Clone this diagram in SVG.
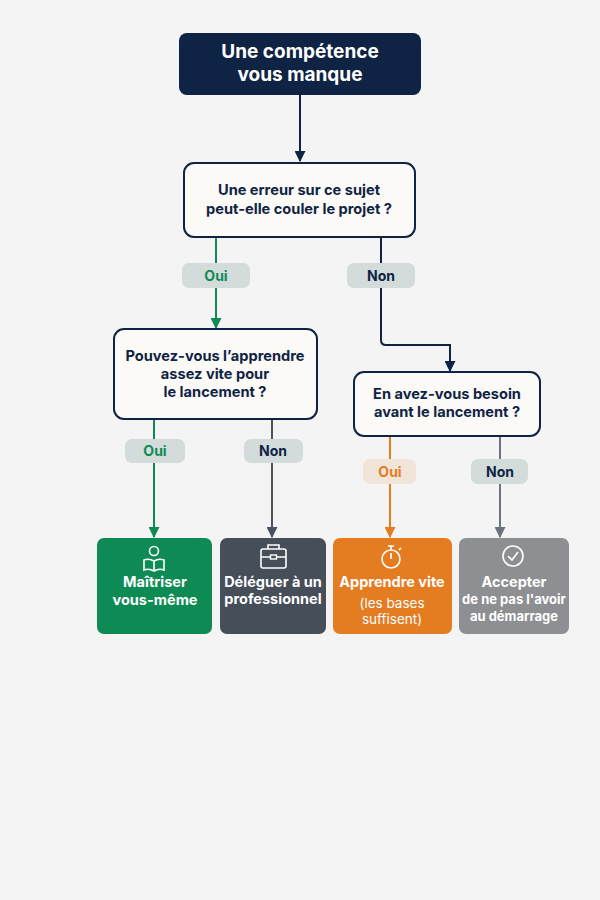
<svg xmlns="http://www.w3.org/2000/svg" width="600" height="900" viewBox="0 0 600 900">
<style>
text{font-family:Inter,"Liberation Sans",sans-serif;font-weight:700;text-anchor:middle}
.q{fill:#fbfaf6;stroke:#0f2344;stroke-width:2}
.qt{font-size:14.6px;fill:#0f2344}
.pill{fill:#d3dcda}
.pt{font-size:14px}
.rt{font-size:14.5px;fill:#fff}
.rn{font-size:13.5px;fill:#fff;font-weight:400}
.ic{fill:none;stroke:#fff;stroke-width:1.6}
</style>
<defs>
<marker id="ag" viewBox="0 0 10 10" refX="9" refY="5" markerWidth="11" markerHeight="11" orient="auto" markerUnits="userSpaceOnUse"><path d="M0,0 L10,5 L0,10 Z" fill="#0e8a55"/></marker>
<marker id="ad" viewBox="0 0 10 10" refX="9" refY="5" markerWidth="11" markerHeight="11" orient="auto" markerUnits="userSpaceOnUse"><path d="M0,0 L10,5 L0,10 Z" fill="#0f2344"/></marker>
<marker id="as" viewBox="0 0 10 10" refX="9" refY="5" markerWidth="11" markerHeight="11" orient="auto" markerUnits="userSpaceOnUse"><path d="M0,0 L10,5 L0,10 Z" fill="#4a5260"/></marker>
<marker id="ao" viewBox="0 0 10 10" refX="9" refY="5" markerWidth="11" markerHeight="11" orient="auto" markerUnits="userSpaceOnUse"><path d="M0,0 L10,5 L0,10 Z" fill="#e47c22"/></marker>
<marker id="ay" viewBox="0 0 10 10" refX="9" refY="5" markerWidth="11" markerHeight="11" orient="auto" markerUnits="userSpaceOnUse"><path d="M0,0 L10,5 L0,10 Z" fill="#6c7380"/></marker>
</defs>
<rect width="600" height="900" fill="#f4f4f4"/>
<g id="connectors" fill="none" stroke-width="2">
<path d="M300,95 V161" stroke="#0f2344" marker-end="url(#ad)"/>
<path d="M216,237 V328" stroke="#0e8a55" marker-end="url(#ag)"/>
<path d="M381,237 V340 Q381,345 386,345 H450 V371" stroke="#0f2344" marker-end="url(#ad)"/>
<path d="M154,419 V537" stroke="#0e8a55" marker-end="url(#ag)"/>
<path d="M272,419 V537" stroke="#4a5260" marker-end="url(#as)"/>
<path d="M390,436 V537" stroke="#e47c22" marker-end="url(#ao)"/>
<path d="M500,436 V537" stroke="#6c7380" marker-end="url(#ay)"/>
<rect class="pill" x="182" y="263" width="68" height="25" rx="7" stroke="none"/>
<text class="pt" x="216" y="281" fill="#0e8a55" stroke="none">Oui</text>
<rect class="pill" x="347" y="263" width="68" height="25" rx="7" stroke="none"/>
<text class="pt" x="381" y="281" fill="#0f2344" stroke="none">Non</text>
<rect class="pill" x="125" y="439" width="60" height="24" rx="7" stroke="none"/>
<text class="pt" x="155" y="456" fill="#0e8a55" stroke="none">Oui</text>
<rect class="pill" x="244" y="439" width="59" height="24" rx="7" stroke="none"/>
<text class="pt" x="273" y="456" fill="#0f2344" stroke="none">Non</text>
<rect x="363" y="459" width="53" height="25" rx="7" fill="#f1e4d8" stroke="none"/>
<text class="pt" x="390" y="477" fill="#e47c22" stroke="none">Oui</text>
<rect class="pill" x="471" y="459" width="57" height="25" rx="7" stroke="none"/>
<text class="pt" x="500" y="477" fill="#0f2344" stroke="none">Non</text>
</g>
<g id="start">
<rect x="179" y="33" width="242" height="62" rx="8" fill="#0f2344"/>
<text x="300" y="58" font-size="19" fill="#fff">Une compétence</text>
<text x="300" y="81" font-size="19" fill="#fff">vous manque</text>
</g>
<g id="q1">
<rect class="q" x="184" y="163" width="231" height="74" rx="10"/>
<text class="qt" x="299" y="195">Une erreur sur ce sujet</text>
<text class="qt" x="299" y="214">peut-elle couler le projet ?</text>
</g>
<g id="q2">
<rect class="q" x="114" y="329" width="203" height="90" rx="10"/>
<text class="qt" x="215" y="361">Pouvez-vous l’apprendre</text>
<text class="qt" x="215" y="379">assez vite pour</text>
<text class="qt" x="215" y="397">le lancement ?</text>
</g>
<g id="q3">
<rect class="q" x="354" y="372" width="186" height="64" rx="10"/>
<text class="qt" x="447" y="399">En avez-vous besoin</text>
<text class="qt" x="447" y="417">avant le lancement ?</text>
</g>
<g id="r1">
<rect x="97" y="538" width="115" height="96" rx="7" fill="#0e8a55"/>
<circle class="ic" cx="154" cy="551" r="4.5"/>
<path class="ic" d="M144,560 Q149,558 154,561 Q159,558 164,560 V570 Q159,568 154,571 Q149,568 144,570 Z M154,561 V571"/>
<text class="rt" x="155" y="587">Maîtriser</text>
<text class="rt" x="155" y="605">vous-même</text>
</g>
<g id="r2">
<rect x="220" y="538" width="106" height="96" rx="7" fill="#464e59"/>
<rect class="ic" x="261" y="549" width="25" height="19" rx="2"/>
<path class="ic" d="M268,549 V545 H279 V549 M261,557 H286"/>
<rect x="270.5" y="555" width="6" height="4" fill="#464e59" stroke="#fff" stroke-width="1.4"/>
<text class="rt" x="273" y="587">Déléguer à un</text>
<text class="rt" x="273" y="604">professionnel</text>
</g>
<g id="r3">
<rect x="333" y="538" width="119" height="96" rx="7" fill="#e47c22"/>
<circle class="ic" cx="391" cy="559" r="9"/>
<path class="ic" d="M388,546 H394 M391,546 V550 M391,553 V559 M399,550 L401,548"/>
<text class="rt" x="392" y="587">Apprendre vite</text>
<text class="rn" x="392" y="608">(les bases</text>
<text class="rn" x="392" y="624">suffisent)</text>
</g>
<g id="r4">
<rect x="459" y="538" width="110" height="96" rx="7" fill="#8e8f93"/>
<circle class="ic" cx="513" cy="556" r="10"/>
<path class="ic" d="M508,556 L512,560 L518,552"/>
<text class="rt" x="514" y="587">Accepter</text>
<text x="514" y="604" font-size="13" fill="#fff">de ne pas l'avoir</text>
<text x="514" y="621" font-size="13" fill="#fff">au démarrage</text>
</g>
</svg>
